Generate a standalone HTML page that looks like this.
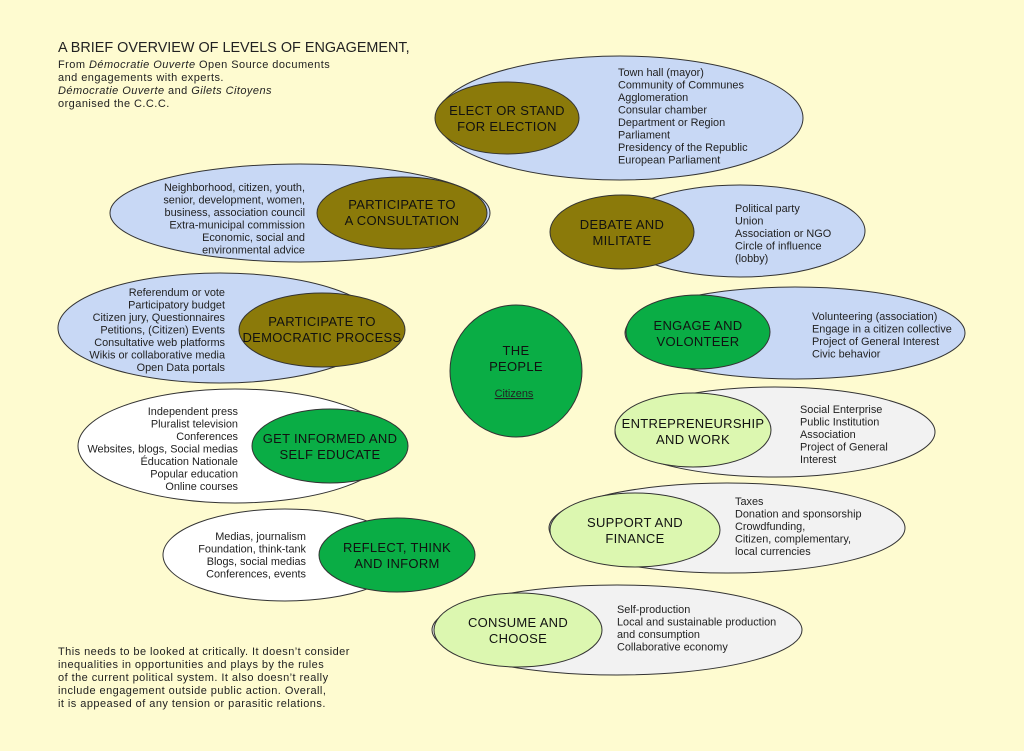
<!DOCTYPE html>
<html><head><meta charset="utf-8"><style>
html,body{margin:0;padding:0;background:#fefbd0;}
svg{display:block;font-family:"Liberation Sans",sans-serif;}
.l{font-size:10.9px;fill:#222;}
.s{font-size:11px;fill:#222;letter-spacing:0.45px;}
.h{font-size:13px;fill:#111;letter-spacing:0.3px;}
ellipse{stroke:#333;stroke-width:1;}
</style></head><body>
<svg width="1024" height="751" viewBox="0 0 1024 751">
<rect width="1024" height="751" fill="#fefbd0"/>
<text x="58" y="52" style="font-size:14.4px;fill:#222">A BRIEF OVERVIEW OF LEVELS OF ENGAGEMENT,</text>
<g class="s">
<text x="58" y="68">From <tspan font-style="italic">Démocratie Ouverte</tspan> Open Source documents</text>
<text x="58" y="81">and engagements with experts.</text>
<text x="58" y="94"><tspan font-style="italic">Démocratie Ouverte</tspan> and <tspan font-style="italic">Gilets Citoyens</tspan></text>
<text x="58" y="107">organised the C.C.C.</text>
<text x="58" y="655">This needs to be looked at critically. It doesn’t consider</text>
<text x="58" y="668">inequalities in opportunities and plays by the rules</text>
<text x="58" y="681">of the current political system. It also doesn’t really</text>
<text x="58" y="694">include engagement outside public action. Overall,</text>
<text x="58" y="707">it is appeased of any tension or parasitic relations.</text>
</g>

<!-- Elect -->
<ellipse cx="620" cy="118" rx="183" ry="62" fill="#c8d8f5"/>
<ellipse cx="507" cy="118" rx="72" ry="36" fill="#8b7a0a"/>
<text class="h" text-anchor="middle"><tspan x="507" y="115">ELECT OR STAND</tspan><tspan x="507" y="131">FOR ELECTION</tspan></text>
<text class="l"><tspan x="618" y="76">Town hall (mayor)</tspan><tspan x="618" y="88.5">Community of Communes</tspan><tspan x="618" y="101">Agglomeration</tspan><tspan x="618" y="113.5">Consular chamber</tspan><tspan x="618" y="126">Department or Region</tspan><tspan x="618" y="138.5">Parliament</tspan><tspan x="618" y="151">Presidency of the Republic</tspan><tspan x="618" y="163.5">European Parliament</tspan></text>

<!-- Consultation -->
<ellipse cx="300" cy="213" rx="190" ry="49" fill="#c8d8f5"/>
<ellipse cx="402" cy="213" rx="85" ry="36" fill="#8b7a0a"/>
<text class="h" text-anchor="middle"><tspan x="402" y="209">PARTICIPATE TO</tspan><tspan x="402" y="225">A CONSULTATION</tspan></text>
<text class="l" text-anchor="end"><tspan x="305" y="191">Neighborhood, citizen, youth,</tspan><tspan x="305" y="203.5">senior, development, women,</tspan><tspan x="305" y="216">business, association council</tspan><tspan x="305" y="228.5">Extra-municipal commission</tspan><tspan x="305" y="241">Economic, social and</tspan><tspan x="305" y="253.5">environmental advice</tspan></text>

<!-- Debate -->
<ellipse cx="740" cy="231" rx="125" ry="46" fill="#c8d8f5"/>
<ellipse cx="622" cy="232" rx="72" ry="37" fill="#8b7a0a"/>
<text class="h" text-anchor="middle"><tspan x="622" y="229">DEBATE AND</tspan><tspan x="622" y="245">MILITATE</tspan></text>
<text class="l"><tspan x="735" y="212">Political party</tspan><tspan x="735" y="224.5">Union</tspan><tspan x="735" y="237">Association or NGO</tspan><tspan x="735" y="249.5">Circle of influence</tspan><tspan x="735" y="262">(lobby)</tspan></text>

<!-- Democratic -->
<ellipse cx="220" cy="328" rx="162" ry="55" fill="#c8d8f5"/>
<ellipse cx="322" cy="330" rx="83" ry="37" fill="#8b7a0a"/>
<text class="h" text-anchor="middle"><tspan x="322" y="326">PARTICIPATE TO</tspan><tspan x="322" y="342">DEMOCRATIC PROCESS</tspan></text>
<text class="l" text-anchor="end"><tspan x="225" y="296">Referendum or vote</tspan><tspan x="225" y="308.5">Participatory budget</tspan><tspan x="225" y="321">Citizen jury, Questionnaires</tspan><tspan x="225" y="333.5">Petitions, (Citizen) Events</tspan><tspan x="225" y="346">Consultative web platforms</tspan><tspan x="225" y="358.5">Wikis or collaborative media</tspan><tspan x="225" y="371">Open Data portals</tspan></text>

<!-- People -->
<ellipse cx="516" cy="371" rx="66" ry="66" fill="#0aad45"/>
<text class="h" text-anchor="middle"><tspan x="516" y="355">THE</tspan><tspan x="516" y="371">PEOPLE</tspan></text>
<text class="l" x="514" y="397" text-anchor="middle" text-decoration="underline">Citizens</text>

<!-- Engage -->
<ellipse cx="795" cy="333" rx="170" ry="46" fill="#c8d8f5"/>
<ellipse cx="698" cy="332" rx="72" ry="37" fill="#0aad45"/>
<text class="h" text-anchor="middle"><tspan x="698" y="330">ENGAGE AND</tspan><tspan x="698" y="346">VOLONTEER</tspan></text>
<text class="l"><tspan x="812" y="320">Volunteering (association)</tspan><tspan x="812" y="332.5">Engage in a citizen collective</tspan><tspan x="812" y="345">Project of General Interest</tspan><tspan x="812" y="357.5">Civic behavior</tspan></text>

<!-- Entrepreneurship -->
<ellipse cx="775" cy="432" rx="160" ry="45" fill="#f2f2f2"/>
<ellipse cx="693" cy="430" rx="78" ry="37" fill="#dcf7b0"/>
<text class="h" text-anchor="middle"><tspan x="693" y="428">ENTREPRENEURSHIP</tspan><tspan x="693" y="444">AND WORK</tspan></text>
<text class="l"><tspan x="800" y="413">Social Enterprise</tspan><tspan x="800" y="425.5">Public Institution</tspan><tspan x="800" y="438">Association</tspan><tspan x="800" y="450.5">Project of General</tspan><tspan x="800" y="463">Interest</tspan></text>

<!-- Get informed -->
<ellipse cx="235" cy="446" rx="157" ry="57" fill="#ffffff"/>
<ellipse cx="330" cy="446" rx="78" ry="37" fill="#0aad45"/>
<text class="h" text-anchor="middle"><tspan x="330" y="443">GET INFORMED AND</tspan><tspan x="330" y="459">SELF EDUCATE</tspan></text>
<text class="l" text-anchor="end"><tspan x="238" y="415">Independent press</tspan><tspan x="238" y="427.5">Pluralist television</tspan><tspan x="238" y="440">Conferences</tspan><tspan x="238" y="452.5">Websites, blogs, Social medias</tspan><tspan x="238" y="465">Éducation Nationale</tspan><tspan x="238" y="477.5">Popular education</tspan><tspan x="238" y="490">Online courses</tspan></text>

<!-- Support -->
<ellipse cx="727" cy="528" rx="178" ry="45" fill="#f2f2f2"/>
<ellipse cx="635" cy="530" rx="85" ry="37" fill="#dcf7b0"/>
<text class="h" text-anchor="middle"><tspan x="635" y="527">SUPPORT AND</tspan><tspan x="635" y="543">FINANCE</tspan></text>
<text class="l"><tspan x="735" y="505">Taxes</tspan><tspan x="735" y="517.5">Donation and sponsorship</tspan><tspan x="735" y="530">Crowdfunding,</tspan><tspan x="735" y="542.5">Citizen, complementary,</tspan><tspan x="735" y="555">local currencies</tspan></text>

<!-- Reflect -->
<ellipse cx="285" cy="555" rx="122" ry="46" fill="#ffffff"/>
<ellipse cx="397" cy="555" rx="78" ry="37" fill="#0aad45"/>
<text class="h" text-anchor="middle"><tspan x="397" y="552">REFLECT, THINK</tspan><tspan x="397" y="568">AND INFORM</tspan></text>
<text class="l" text-anchor="end"><tspan x="306" y="540">Medias, journalism</tspan><tspan x="306" y="552.5">Foundation, think-tank</tspan><tspan x="306" y="565">Blogs, social medias</tspan><tspan x="306" y="577.5">Conferences, events</tspan></text>

<!-- Consume -->
<ellipse cx="617" cy="630" rx="185" ry="45" fill="#f2f2f2"/>
<ellipse cx="518" cy="630" rx="84" ry="37" fill="#dcf7b0"/>
<text class="h" text-anchor="middle"><tspan x="518" y="627">CONSUME AND</tspan><tspan x="518" y="643">CHOOSE</tspan></text>
<text class="l"><tspan x="617" y="613">Self-production</tspan><tspan x="617" y="625.5">Local and sustainable production</tspan><tspan x="617" y="638">and consumption</tspan><tspan x="617" y="650.5">Collaborative economy</tspan></text>
</svg>
</body></html>
